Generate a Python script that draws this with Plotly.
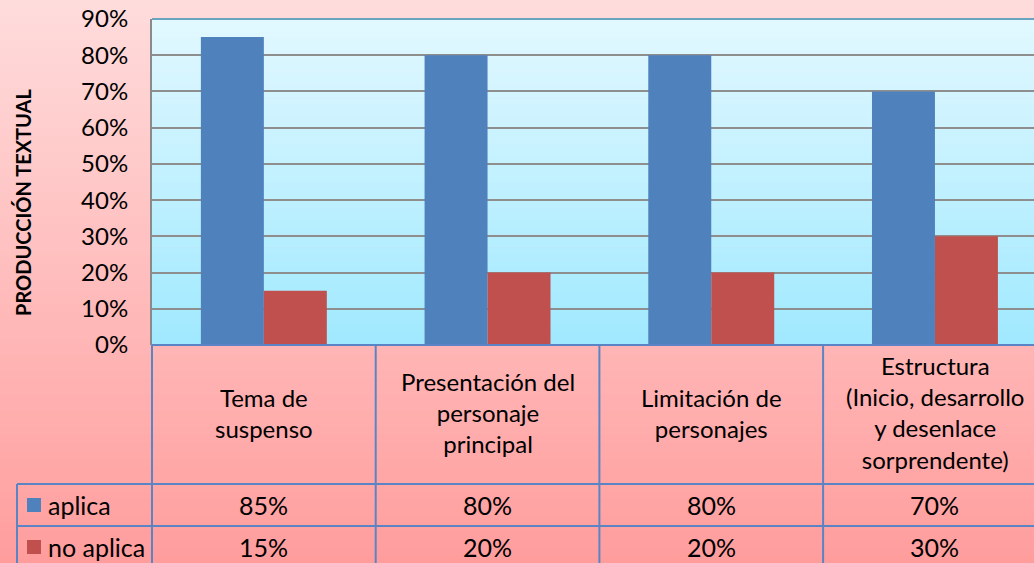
import plotly.graph_objects as go

# ---- data ----
categories = ["Tema de<br>suspenso",
              "Presentación del<br>personaje<br>principal",
              "Limitación de<br>personajes",
              "Estructura<br>(Inicio, desarrollo<br>y desenlace<br>sorprendente)"]
series_names = ["aplica", "no aplica"]
aplica = [85, 80, 80, 70]
no_aplica = [15, 20, 20, 30]
y_ticks = [0, 10, 20, 30, 40, 50, 60, 70, 80, 90]
y_tick_labels = [f"{v}%" for v in y_ticks]
y_title = "PRODUCCIÓN TEXTUAL"

# ---- layout geometry (pixels) ----
W, H = 1034, 563
L, T, B = 152, 19, 345          # plot area left, top, bottom
R = W                           # plot area right (clipped chart)
CAT_W = 223.7                   # pixel width per category
HDR_BOT = 484
ROW1_BOT = 526
ROW2_BOT = 568
TBL_LEFT = 17

BLUE = "#4F81BD"
RED = "#C0504D"
LINE_BLUE = "#5A84C4"
FONT = "Lato"
FS = 25

def xp(px):
    return (px - L) / (R - L)

def yp(py):
    return (B - py) / (B - T)

def lerp(c1, c2, t):
    return "rgb(%d,%d,%d)" % tuple(round(a + (b - a) * t) for a, b in zip(c1, c2))

x_idx = list(range(len(categories)))
xmax = -0.5 + (R - L) / CAT_W

fig = go.Figure()
fig.add_trace(go.Bar(x=x_idx, y=aplica, name=series_names[0], marker_color=BLUE,
                     marker_line_width=0))
fig.add_trace(go.Bar(x=x_idx, y=no_aplica, name=series_names[1], marker_color=RED,
                     marker_line_width=0))

shapes = []
# paper gradient
N = 70
top_c, bot_c = (255, 220, 220), (255, 157, 157)
for i in range(N):
    y0 = H * i / N
    y1 = H * (i + 1) / N + 1
    shapes.append(dict(type="rect", xref="paper", yref="paper", layer="below",
                       x0=xp(0), x1=xp(W), y0=yp(y1), y1=yp(y0),
                       fillcolor=lerp(top_c, bot_c, (i + 0.5) / N), line_width=0))
# plot area gradient
N2 = 50
ptop, pbot = (226, 248, 255), (160, 233, 255)
for i in range(N2):
    y0 = T + (B - T) * i / N2
    y1 = T + (B - T) * (i + 1) / N2 + 0.6
    shapes.append(dict(type="rect", xref="paper", yref="paper", layer="below",
                       x0=0, x1=1, y0=max(0, yp(y1)), y1=yp(y0),
                       fillcolor=lerp(ptop, pbot, (i + 0.5) / N2), line_width=0))
# top border of plot area
shapes.append(dict(type="line", xref="paper", yref="paper", x0=0, x1=1, y0=1, y1=1,
                   line=dict(color="#6AA3BE", width=2)))

# table lines
lw = 2
shapes.append(dict(type="line", xref="paper", yref="paper", x0=0, x1=1, y0=0, y1=0,
                   line=dict(color=LINE_BLUE, width=lw)))
for py in (HDR_BOT, ROW1_BOT):
    shapes.append(dict(type="line", xref="paper", yref="paper",
                       x0=xp(TBL_LEFT), x1=1, y0=yp(py), y1=yp(py),
                       line=dict(color=LINE_BLUE, width=lw)))
for k in range(len(categories) + 1):
    px = L + k * CAT_W
    if px > W:
        continue
    shapes.append(dict(type="line", xref="paper", yref="paper",
                       x0=xp(px), x1=xp(px), y0=yp(B), y1=yp(ROW2_BOT),
                       line=dict(color=LINE_BLUE, width=lw)))
shapes.append(dict(type="line", xref="paper", yref="paper",
                   x0=xp(TBL_LEFT), x1=xp(TBL_LEFT), y0=yp(HDR_BOT), y1=yp(ROW2_BOT),
                   line=dict(color=LINE_BLUE, width=lw)))

annotations = []
rows = [(series_names[0], aplica, BLUE, 505),
        (series_names[1], no_aplica, RED, 547)]
for name, vals, col, cy in rows:
    shapes.append(dict(type="rect", xref="paper", yref="paper",
                       x0=xp(27), x1=xp(41), y0=yp(cy + 7), y1=yp(cy - 7),
                       fillcolor=col, line_width=0))
    annotations.append(dict(text=name, xref="paper", yref="paper", x=xp(46), y=yp(cy),
                            xanchor="left", yanchor="middle", showarrow=False,
                            font=dict(family=FONT, size=FS, color="black")))
    for i, v in enumerate(vals):
        annotations.append(dict(text=f"{v}%", xref="x", yref="paper", x=x_idx[i], y=yp(cy),
                                xanchor="center", yanchor="middle", showarrow=False,
                                font=dict(family=FONT, size=FS, color="black")))
for i, c in enumerate(categories):
    annotations.append(dict(text=c, xref="x", yref="paper", x=x_idx[i],
                            y=yp((B + HDR_BOT) / 2 - 2), xanchor="center", yanchor="middle",
                            showarrow=False, align="center",
                            font=dict(family=FONT, size=FS - 1, color="black")))
annotations.append(dict(text=f"<b>{y_title}</b>", xref="paper", yref="paper",
                        x=xp(23), y=yp(203), textangle=-90, showarrow=False,
                        xanchor="center", yanchor="middle",
                        font=dict(family=FONT, size=20, color="black")))

fig.update_layout(
    width=W, height=H,
    margin=dict(l=L, r=W - R, t=T, b=H - B, pad=0),
    paper_bgcolor="rgb(255,220,220)",
    plot_bgcolor="rgba(0,0,0,0)",
    barmode="group", bargap=0.437, bargroupgap=0,
    showlegend=False,
    shapes=shapes,
    annotations=annotations,
    xaxis=dict(range=[-0.5, xmax], showticklabels=False, showgrid=False,
               zeroline=False, showline=False, fixedrange=True),
    yaxis=dict(range=[0, 90], tickvals=y_ticks, ticktext=y_tick_labels,
               showgrid=True, gridcolor="#8E8E8E", gridwidth=1.6,
               zeroline=False, showline=True, linecolor="#8A8A8A", linewidth=2,
               ticks="", ticklabelstandoff=17,
               tickfont=dict(family=FONT, size=24, color="black"), fixedrange=True),
)

fig.write_html("out.html", config={"displayModeBar": False},
               post_script="document.body.style.margin='0';document.body.style.padding='0';document.body.style.overflow='hidden';")
